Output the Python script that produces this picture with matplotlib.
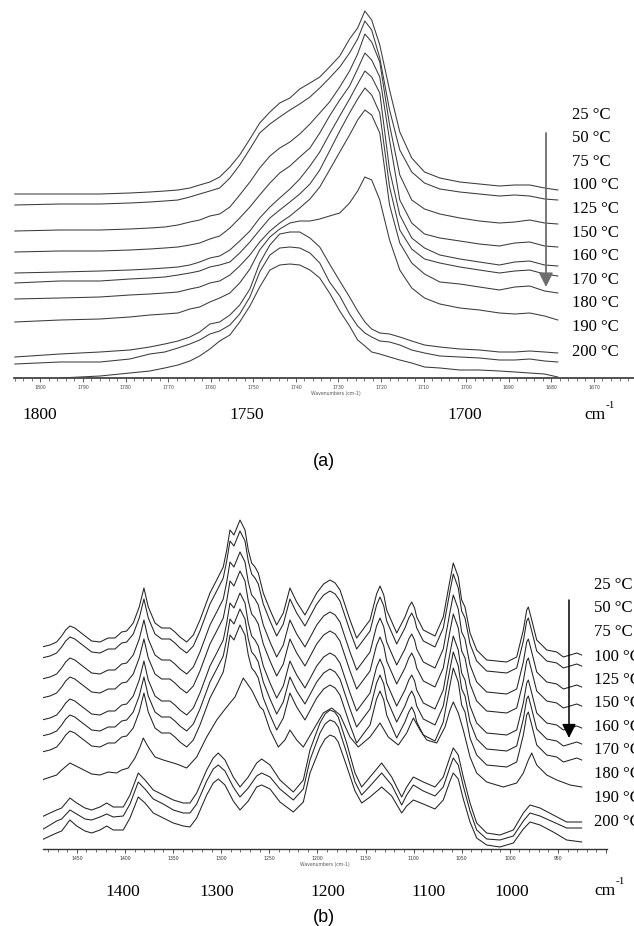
import numpy as np
import matplotlib
matplotlib.use("Agg")
import matplotlib.pyplot as plt
from matplotlib.ticker import MultipleLocator
from matplotlib.patches import FancyArrowPatch

temps = ["25", "50", "75", "100", "125", "150", "160", "170", "180", "190", "200"]

# ---- panel (a): C=O region, absorbance in arbitrary stacked units ----
wn_a = [1806.0, 1795.4, 1786.0, 1779.0, 1774.3, 1770.8, 1767.7, 1764.9, 1762.6, 1760.2,
        1757.9, 1755.5, 1753.2, 1750.8, 1748.5, 1746.1, 1743.8, 1741.4, 1739.1, 1736.7,
        1734.4, 1732.1, 1729.7, 1727.4, 1725.5, 1723.8, 1722.2, 1720.3, 1718.0, 1715.6,
        1712.8, 1709.8, 1706.2, 1701.5, 1696.9, 1692.2, 1688.6, 1685.1, 1681.6, 1678.5]

a_25 = [184, 184, 184, 185, 186, 187, 188, 190, 193, 196, 201, 211, 223, 239, 255, 266, 275, 280, 289, 295,
        301, 311, 322, 339, 350, 367, 358, 333, 288, 246, 220, 206, 200, 196, 194, 192, 193, 193, 190, 188]
a_50 = [173, 174, 174, 175, 176, 177, 178, 181, 184, 187, 190, 200, 213, 229, 245, 254, 261, 268, 274, 281,
        290, 300, 311, 325, 339, 357, 348, 320, 268, 228, 206, 195, 189, 186, 184, 182, 183, 182, 179, 178]
a_75 = [147, 148, 148, 149, 150, 151, 153, 156, 158, 162, 164, 171, 183, 196, 210, 222, 230, 236, 244, 254,
        265, 276, 291, 307, 324, 344, 336, 316, 253, 203, 178, 169, 164, 160, 157, 155, 156, 158, 155, 154]
a_100 = [126, 127, 127, 128, 129, 130, 131, 133, 135, 139, 142, 150, 160, 171, 183, 195, 205, 212, 221, 230,
         245, 262, 278, 292, 309, 325, 318, 301, 238, 178, 155, 144, 140, 137, 134, 132, 135, 136, 132, 131]
a_125 = [105, 106, 107, 108, 109, 110, 111, 113, 116, 120, 122, 128, 137, 147, 160, 171, 180, 189, 199, 212,
         226, 244, 262, 279, 294, 307, 301, 285, 208, 163, 140, 130, 123, 119, 116, 113, 116, 117, 113, 112]
a_150 = [95, 97, 97, 99, 100, 101, 103, 105, 107, 111, 113, 116, 125, 136, 148, 160, 168, 176, 184, 194,
         208, 227, 247, 265, 279, 290, 283, 265, 191, 148, 129, 119, 115, 111, 108, 105, 107, 108, 104, 102]
a_160 = [79, 80, 81, 83, 84, 85, 86, 89, 91, 95, 97, 103, 112, 123, 136, 147, 155, 162, 170, 179,
         191, 208, 226, 243, 258, 268, 263, 245, 173, 135, 115, 104, 96, 94, 91, 88, 91, 92, 87, 85]
a_170 = [56, 58, 59, 61, 63, 64, 65, 69, 71, 76, 80, 85, 95, 109, 128, 141, 149, 155, 157, 157,
         159, 162, 165, 175, 187, 201, 198, 178, 138, 108, 90, 80, 74, 70, 68, 65, 64, 65, 62, 58]
a_180 = [21, 24, 26, 28, 31, 34, 37, 41, 46, 54, 56, 63, 73, 89, 115, 133, 144, 146, 146, 140,
         131, 114, 97, 81, 67, 56, 49, 45, 44, 41, 37, 33, 31, 29, 28, 26, 26, 27, 26, 25]
a_190 = [14, 16, 16, 19, 24, 26, 30, 34, 38, 44, 47, 53, 64, 81, 106, 123, 130, 131, 130, 125,
         115, 96, 82, 64, 52, 45, 41, 37, 36, 33, 28, 25, 22, 21, 20, 18, 18, 19, 17, 16]
a_200 = [np.nan, 0, 2, 5, 7, 10, 13, 17, 22, 29, 37, 43, 56, 72, 91, 108, 113, 114, 113, 108,
         100, 85, 67, 52, 38, 32, 26, 24, 21, 18, 15, 11, 10, 8, 8, 7, 6, 5, 4, 1]

# ---- panel (b): fingerprint region ----
# 25-160 C share one profile, stacked with offsets
wn_std = [1486.5, 1477.8, 1470.9, 1465.7, 1461.5, 1457.1, 1452.0, 1446.7, 1434.5, 1425.9,
          1417.3, 1410.3, 1403.3, 1398.1, 1391.3, 1385.1, 1380.2, 1375.7, 1368.7, 1361.8,
          1353.2, 1348.0, 1342.8, 1335.8, 1328.9, 1322.0, 1311.6, 1304.6, 1297.8, 1294.2,
          1290.8, 1286.7, 1280.4, 1275.2, 1271.8, 1268.3, 1264.8, 1261.4, 1256.2, 1249.2,
          1242.3, 1235.4, 1228.5, 1221.5, 1212.9, 1200.7, 1193.5, 1186.9, 1181.5, 1176.5,
          1166.1, 1159.2, 1145.3, 1138.5, 1134.9, 1131.0, 1128.0, 1117.6, 1109.0, 1105.0,
          1102.0, 1099.0, 1096.8, 1089.9, 1077.8, 1069.2, 1062.2, 1058.8, 1053.6, 1050.1,
          1046.6, 1041.4, 1034.5, 1024.1, 1003.3, 992.9, 986.0, 982.5, 980.8, 977.3,
          972.1, 961.7, 951.3, 944.4, 937.4, 930.5, 925.4]
b_std = [202, 204, 207, 213, 219, 223, 221, 217, 208, 207, 211, 211, 217, 218, 226, 242, 261, 242, 226, 221,
         221, 217, 212, 207, 214, 229, 256, 269, 282, 299, 319, 314, 329, 319, 299, 286, 282, 276, 256, 239,
         224, 236, 261, 247, 234, 256, 265, 269, 266, 259, 229, 211, 229, 255, 263, 254, 239, 216, 232, 242,
         247, 241, 232, 219, 213, 232, 269, 286, 272, 249, 242, 216, 199, 189, 187, 192, 219, 239, 242, 229,
         209, 199, 197, 192, 194, 196, 194]
b_offsets = [0, 11, 32, 51, 73, 89, 105]

wn_170 = [1486.5, 1470.9, 1465.7, 1457.1, 1446.7, 1434.5, 1425.9, 1417.3, 1408.6, 1403.3,
          1396.5, 1389.5, 1384.3, 1380.9, 1375.7, 1368.7, 1360.1, 1346.2, 1335.8, 1325.4,
          1315.0, 1304.6, 1294.2, 1290.8, 1285.6, 1277.0, 1268.3, 1259.6, 1256.2, 1249.2,
          1240.6, 1233.7, 1228.5, 1221.5, 1214.6, 1204.3, 1193.9, 1185.1, 1176.5, 1166.1,
          1157.5, 1145.3, 1134.9, 1126.3, 1115.9, 1107.2, 1100.3, 1093.4, 1086.4, 1076.0,
          1067.4, 1062.2, 1058.8, 1053.6, 1048.4, 1041.4, 1034.5, 1024.1, 1006.8, 992.9,
          986.0, 980.8, 977.3, 972.1, 961.7, 951.3, 937.4, 925.4]
b_170 = [69, 74, 79, 86, 81, 75, 74, 77, 76, 79, 81, 91, 102, 111, 102, 92, 89, 85, 81, 92,
         112, 129, 142, 146, 152, 171, 159, 142, 139, 119, 102, 109, 119, 109, 102, 119, 136, 141, 134, 112,
         102, 112, 126, 112, 104, 116, 131, 119, 109, 106, 122, 139, 147, 136, 119, 92, 76, 67, 62, 66,
         76, 89, 96, 84, 74, 69, 64, 62]

wn_hot = [1486.5, 1477.8, 1470.9, 1465.7, 1457.1, 1450.1, 1441.5, 1434.5, 1425.9, 1418.9,
          1412.1, 1401.7, 1394.7, 1386.1, 1379.1, 1370.5, 1360.1, 1349.7, 1339.3, 1332.4,
          1325.4, 1315.0, 1308.2, 1303.0, 1296.0, 1287.4, 1280.4, 1271.8, 1263.1, 1257.9,
          1249.2, 1238.9, 1225.0, 1214.6, 1207.7, 1197.3, 1192.0, 1186.9, 1182.0, 1178.3,
          1169.6, 1160.9, 1154.0, 1145.3, 1133.2, 1122.8, 1112.4, 1107.2, 1100.3, 1089.9,
          1077.8, 1069.2, 1062.2, 1058.8, 1053.6, 1048.4, 1041.4, 1034.5, 1024.1, 1010.3,
          996.4, 986.0, 979.1, 968.7, 954.9, 941.0, 925.4]
b_180 = [32, 36, 39, 41, 51, 46, 41, 39, 42, 46, 42, 42, 54, 76, 69, 59, 54, 49, 46, 46,
         56, 79, 91, 96, 89, 72, 62, 72, 86, 90, 84, 69, 57, 69, 99, 126, 135, 139, 137, 132,
         106, 76, 62, 72, 86, 72, 52, 62, 72, 67, 62, 72, 92, 101, 94, 72, 46, 26, 16, 14,
         19, 36, 44, 41, 34, 27, 27]
b_190 = [19, 24, 28, 30, 39, 35, 30, 29, 32, 35, 32, 33, 45, 67, 60, 50, 45, 39, 36, 36,
         45, 68, 80, 84, 78, 62, 52, 61, 73, 76, 72, 60, 49, 60, 89, 116, 125, 129, 127, 122,
         96, 67, 54, 63, 76, 64, 44, 54, 64, 58, 53, 62, 82, 91, 84, 63, 38, 19, 10, 9,
         13, 28, 36, 33, 27, 21, 21]
b_200 = [9, 13, 16, 18, 29, 23, 18, 16, 19, 23, 19, 19, 31, 52, 46, 36, 31, 26, 23, 22,
         31, 54, 66, 70, 64, 48, 39, 48, 62, 64, 60, 47, 37, 47, 76, 101, 110, 114, 112, 107,
         83, 58, 46, 52, 62, 53, 36, 43, 49, 45, 40, 49, 68, 76, 70, 50, 27, 11, 4, 2,
         6, 20, 27, 24, 17, 9, 7]

W, H = 634, 926
fig = plt.figure(figsize=(W / 100, H / 100), dpi=100)


def fx(x):
    return x / W


def fy(y):
    return 1 - y / H


def style_axis(ax, major, minor, color, spine_lw):
    for s in ['left', 'top', 'right']:
        ax.spines[s].set_visible(False)
    ax.spines['bottom'].set_color(color)
    ax.spines['bottom'].set_linewidth(spine_lw)
    ax.set_yticks([])
    ax.xaxis.set_major_locator(MultipleLocator(major))
    ax.xaxis.set_minor_locator(MultipleLocator(minor))
    ax.tick_params(axis='x', which='major', direction='out', length=3.2, width=0.6,
                   colors=color, labelsize=3.3, pad=1.5)
    ax.tick_params(axis='x', which='minor', direction='out', length=1.8, width=0.5, colors=color)
    ax.patch.set_visible(False)


line_kw = dict(lw=0.75, solid_joinstyle='round')

# panel (a)
ax1 = fig.add_axes([fx(14), fy(378), 620 / W, 378 / H])
for s in [a_25, a_50, a_75, a_100, a_125, a_150, a_160, a_170, a_180, a_190, a_200]:
    ax1.plot(wn_a, s, color='#3a3a3a', **line_kw)
ax1.set_xlim(1806.2, 1660.6)
ax1.set_ylim(0, 378)
style_axis(ax1, 10, 2, '#444444', 1.3)
ax1.set_xlabel('Wavenumbers (cm-1)', fontsize=3.3, color='#555555')
ax1.xaxis.set_label_coords(0.519, -0.034)

# panel (b)
ax2 = fig.add_axes([fx(42.5), fy(849), 564 / W, 369 / H])
for off in b_offsets:
    ax2.plot(wn_std, np.array(b_std) - off, color='#222222', **line_kw)
ax2.plot(wn_170, b_170, color='#222222', **line_kw)
for s in [b_180, b_190, b_200]:
    ax2.plot(wn_hot, s, color='#222222', **line_kw)
ax2.set_xlim(1485.6, 899.6)
ax2.set_ylim(0, 369)
style_axis(ax2, 50, 10, '#333333', 1.0)
ax2.set_xticks(np.arange(900, 1451, 50))
ax2.set_xticklabels([''] + [str(v) for v in range(950, 1451, 50)])
ax2.set_xlabel('Wavenumbers (cm-1)', fontsize=3.3, color='#555555')
ax2.xaxis.set_label_coords(0.5, -0.034)

serif = 'Liberation Serif'

# temperature labels (the 3-digit ones in (b) run off the right edge, as in the original)
ya = [115, 138.3, 161.7, 185, 209.3, 232.7, 256, 280, 303.3, 327.3, 351.7]
yb = [585, 608.3, 632.3, 656.7, 680, 703.3, 726.7, 750, 774, 798.3, 821.7]
for t, y1, y2 in zip(temps, ya, yb):
    fig.text(fx(572), fy(y1), t + ' °C', family=serif, fontsize=12, va='center', ha='left')
    fig.text(fx(594), fy(y2), t + ' °C', family=serif, fontsize=12, va='center', ha='left')

# arrows
fig.add_artist(FancyArrowPatch(
    (fx(546), fy(133)), (fx(546), fy(287)), transform=fig.transFigure,
    arrowstyle='-|>,head_length=0.6,head_width=0.3', mutation_scale=14,
    color='#6e6e6e', lw=1.3, shrinkA=0, shrinkB=0))
fig.add_artist(FancyArrowPatch(
    (fx(569), fy(600)), (fx(569), fy(738)), transform=fig.transFigure,
    arrowstyle='-|>,head_length=0.6,head_width=0.3', mutation_scale=14,
    color='black', lw=1.1, shrinkA=0, shrinkB=0))

# large wavenumber labels under each panel
for x, lab in zip([40, 247, 465], ['1800', '1750', '1700']):
    fig.text(fx(x), fy(415), lab, family=serif, fontsize=12.5, ha='center', va='center')
fig.text(fx(584), fy(415), 'cm', family=serif, fontsize=12.5, ha='left', va='center')
fig.text(fx(606), fy(405), '-1', family=serif, fontsize=8, ha='left', va='center')

for x, lab in zip([123, 217, 327.5, 428.6, 511.5], ['1400', '1300', '1200', '1100', '1000']):
    fig.text(fx(x), fy(892), lab, family=serif, fontsize=12.5, ha='center', va='center')
fig.text(fx(594), fy(891), 'cm', family=serif, fontsize=12.5, ha='left', va='center')
fig.text(fx(616), fy(882), '-1', family=serif, fontsize=8, ha='left', va='center')

fig.text(fx(324), fy(461), '(a)', family='Liberation Sans', fontsize=13, ha='center', va='center')
fig.text(fx(324), fy(918), '(b)', family='Liberation Sans', fontsize=13, ha='center', va='center')

fig.savefig('out.png', dpi=100)
